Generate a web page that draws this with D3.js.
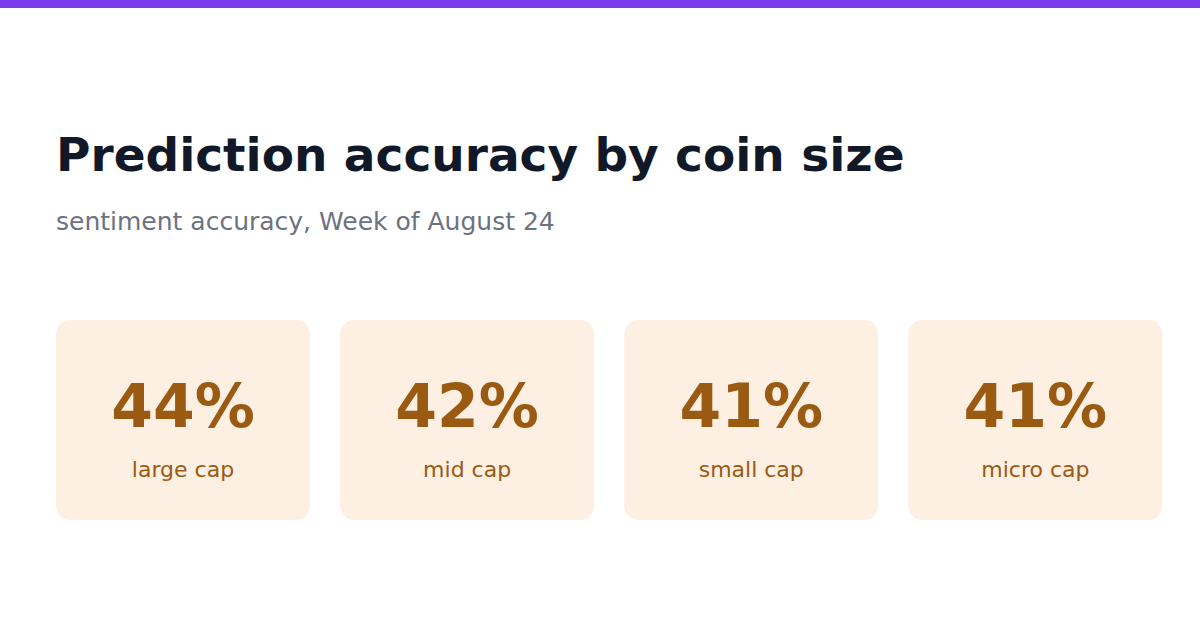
<!DOCTYPE html>
<html>
<head>
<meta charset="utf8">
<script src="https://d3js.org/d3.v7.min.js"></script>
<style>
  body { margin: 0; background: #fff; }
  svg { display: block; font-family: "DejaVu Sans", sans-serif; }
</style>
</head>
<body>
<script>
  var width = 1200, height = 630;

  // data
  var categories = ["large cap", "mid cap", "small cap", "micro cap"];
  var accuracy = [44, 42, 41, 41];

  var svg = d3.select("body").append("svg")
    .attr("width", width)
    .attr("height", height);

  // top stripe
  svg.append("rect")
    .attr("x", 0).attr("y", 0)
    .attr("width", width).attr("height", 8)
    .attr("fill", "#7c3aed");

  svg.append("text")
    .attr("x", 56).attr("y", 171)
    .attr("font-size", 47).attr("font-weight", "bold")
    .attr("fill", "#111827")
    .text("Prediction accuracy by coin size");

  svg.append("text")
    .attr("x", 56).attr("y", 230)
    .attr("font-size", 25)
    .attr("fill", "#6b7280")
    .text("sentiment accuracy, Week of August 24");

  // cards laid out with a band scale
  var x = d3.scaleBand()
    .domain(categories)
    .range([56, 1168])
    .paddingInner(24 / 278)
    .paddingOuter(0)
    .align(0);

  var cards = svg.selectAll("g.card")
    .data(categories)
    .enter().append("g")
    .attr("class", "card")
    .attr("transform", function(d) { return "translate(" + x(d) + ",320)"; });

  cards.append("rect")
    .attr("width", 254)
    .attr("height", 200)
    .attr("rx", 14)
    .attr("fill", "#fdefe2");

  cards.append("text")
    .attr("x", 127).attr("y", 427)
    .attr("y", 107)
    .attr("text-anchor", "middle")
    .attr("font-size", 60).attr("font-weight", "bold")
    .attr("fill", "#9a5a12")
    .text(function(d, i) { return accuracy[i] + "%"; });

  cards.append("text")
    .attr("x", 127)
    .attr("y", 157)
    .attr("text-anchor", "middle")
    .attr("font-size", 22)
    .attr("fill", "#9a5a12")
    .text(function(d) { return d; });
</script>
</body>
</html>
